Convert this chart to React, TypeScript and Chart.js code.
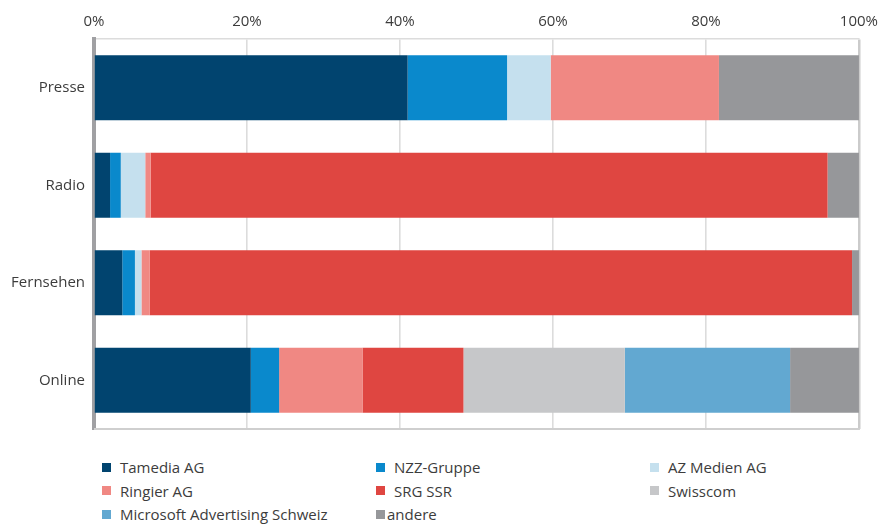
import React, { useEffect, useRef } from "react";
import { Chart, registerables } from "chart.js";

Chart.register(...registerables);

const categories = ["Presse", "Radio", "Fernsehen", "Online"];
const tickValues = [0, 20, 40, 60, 80, 100];

const tamedia = [41.0, 2.1, 3.7, 20.5];
const nzz = [13.0, 1.4, 1.65, 3.7];
const azMedien = [5.7, 3.2, 0.85, 0];
const ringier = [22.0, 0.7, 1.1, 10.9];
const srg = [0, 88.5, 91.8, 13.2];
const swisscom = [0, 0, 0, 21.1];
const microsoft = [0, 0, 0, 21.6];
const andere = [18.3, 4.1, 0.9, 9.0];

const seriesNames = [
  "Tamedia AG",
  "NZZ-Gruppe",
  "AZ Medien AG",
  "Ringier AG",
  "SRG SSR",
  "Swisscom",
  "Microsoft Advertising Schweiz",
  "andere",
];
const seriesData = [tamedia, nzz, azMedien, ringier, srg, swisscom, microsoft, andere];
const seriesColors = [
  "#01446f",
  "#0a89cc",
  "#c5e0ee",
  "#f08883",
  "#df4641",
  "#c6c7c9",
  "#62a8d1",
  "#96979a",
];

const FONT = "'Open Sans', 'Noto Sans', sans-serif";
const TEXT = "#3c3c3c";

const bottomBorder = {
  id: "bottomBorder",
  afterDatasetsDraw(chart: any) {
    const { ctx, chartArea } = chart;
    ctx.save();
    ctx.strokeStyle = "#cfcfcf";
    ctx.lineWidth = 2;
    ctx.beginPath();
    ctx.moveTo(chartArea.left, chartArea.bottom);
    ctx.lineTo(chartArea.right + 1, chartArea.bottom);
    ctx.stroke();
    ctx.restore();
  },
};

export default function App() {
  const ref = useRef<HTMLCanvasElement | null>(null);

  useEffect(() => {
    if (!ref.current) return;
    const chart = new Chart(ref.current, {
      type: "bar",
      data: {
        labels: categories,
        datasets: seriesNames.map((n, i) => ({
          label: n,
          data: seriesData[i],
          backgroundColor: seriesColors[i],
          borderWidth: 0,
          categoryPercentage: 0.667,
          barPercentage: 1,
        })),
      },
      options: {
        indexAxis: "y",
        animation: false,
        responsive: false,
        maintainAspectRatio: false,
        layout: { padding: { left: 0, right: 26, top: 0, bottom: 11 } },
        plugins: { legend: { display: false }, tooltip: { enabled: false } },
        scales: {
          x: {
            position: "top",
            stacked: true,
            min: 0,
            max: 100,
            afterBuildTicks: (scale: any) => {
              scale.ticks = tickValues.map((v) => ({ value: v }));
            },
            afterFit: (scale: any) => {
              scale.height = 39;
            },
            ticks: {
              callback: (v: any) => v + "%",
              color: TEXT,
              font: { family: FONT, size: 15 },
              padding: 8,
              maxRotation: 0,
            },
            grid: {
              drawTicks: false,
              color: (c: any) => (c.tick && c.tick.value === 100 ? "#cbcbcb" : "#dcdcdc"),
              lineWidth: (c: any) => (c.tick && c.tick.value === 100 ? 2.5 : 1.6),
            },
            border: { display: true, color: "#dcdcdc", width: 1.5 },
          },
          y: {
            stacked: true,
            afterFit: (scale: any) => {
              scale.width = 94;
            },
            ticks: {
              color: TEXT,
              font: { family: FONT, size: 15 },
              padding: 9,
            },
            grid: { display: false, drawTicks: false },
            border: { display: true, color: "#a0a0a3", width: 4 },
          },
        },
      },
      plugins: [bottomBorder],
    });
    return () => chart.destroy();
  }, []);

  const legendCols = [102, 376, 650];
  const rowTop = 457;
  const rowH = 23.5;

  return (
    <div
      style={{
        position: "fixed",
        left: 0,
        top: 0,
        width: 886,
        height: 525,
        background: "#fff",
        fontFamily: FONT,
      }}
    >
      <canvas ref={ref} width={886} height={447} style={{ display: "block", width: 886, height: 447 }} />
      {seriesNames.map((n, i) => {
        const col = i % 3;
        const row = Math.floor(i / 3);
        const gap = n === "andere" ? 2 : 9;
        return (
          <div
            key={n}
            style={{
              position: "absolute",
              left: legendCols[col],
              top: rowTop + row * rowH,
              height: 20,
              display: "flex",
              alignItems: "center",
              fontSize: 15,
              color: TEXT,
              whiteSpace: "nowrap",
            }}
          >
            <span
              style={{
                display: "inline-block",
                width: 9,
                height: 9,
                background: seriesColors[i],
                marginRight: gap,
              }}
            />
            <span>{n}</span>
          </div>
        );
      })}
    </div>
  );
}
